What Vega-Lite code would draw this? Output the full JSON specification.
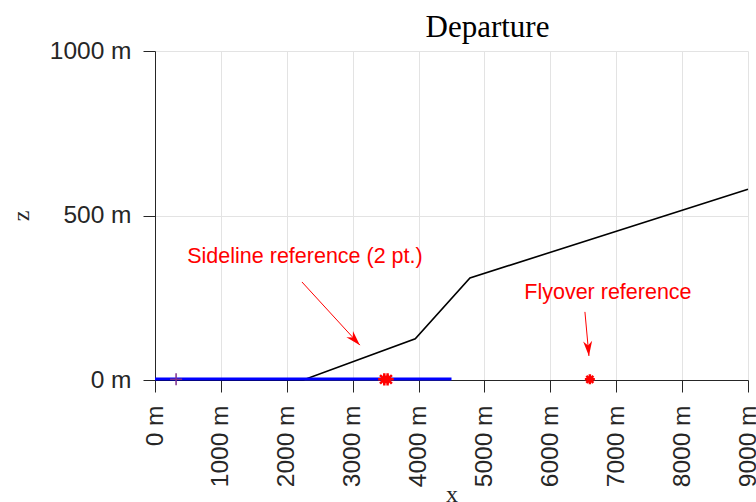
{
  "$schema": "https://vega.github.io/schema/vega-lite/v6.json",
  "autosize": "none",
  "width": 593,
  "height": 329,
  "padding": {"left": 155, "top": 51, "right": 8, "bottom": 122},
  "background": "white",
  "config": {"view": {"stroke": null}},
  "title": {"text": "Departure", "font": "Liberation Serif", "fontSize": 31, "fontWeight": "normal", "color": "#000000", "dx": 36, "offset": 8, "dy": 14},
  "datasets": {
    "profile": [
      {"x": 0, "z": 0}, {"x": 2250, "z": 0}, {"x": 3950, "z": 125}, {"x": 4780, "z": 310}, {"x": 9000, "z": 580}
    ],
    "runway": [{"x": 0, "z": 3}, {"x": 4500, "z": 3}],
    "stars": [{"x": 3480, "z": 2, "s": 150}, {"x": 3530, "z": 2, "s": 150}, {"x": 6600, "z": 2, "s": 100}],
    "start": [{"x": 320, "z": 2}],
    "arrows": [
      {"x": 2230, "z": 298, "x2": 3110, "z2": 106, "angle": 137},
      {"x": 6525, "z": 207, "x2": 6586, "z2": 73, "angle": 175}
    ],
    "labels": [
      {"x": 2276, "z": 374, "t": "Sideline reference (2 pt.)"},
      {"x": 6874, "z": 264, "t": "Flyover reference"}
    ]
  },
  "encoding": {
    "x": {"field": "x", "type": "quantitative", "scale": {"domain": [0, 9000], "nice": false},
      "axis": {"title": "x", "titleFont": "Liberation Serif", "titleFontSize": 24, "titleFontWeight": "normal", "titleColor": "#262626", "titlePadding": -4,
        "values": [0,1000,2000,3000,4000,5000,6000,7000,8000,9000], "format": "d", "labelExpr": "datum.label + ' m'",
        "labelAngle": -90, "labelAlign": "right", "labelBaseline": "middle", "labelFont": "Liberation Sans", "labelFontSize": 24.5, "labelColor": "#262626", "labelPadding": 13,
        "tickSize": 12, "tickColor": "#262626", "domainColor": "#262626", "grid": true, "gridColor": "#e3e3e3", "labelOverlap": false, "labelFlush": false}},
    "y": {"field": "z", "type": "quantitative", "scale": {"domain": [0, 1000], "nice": false},
      "axis": {"title": "z", "titleFont": "Liberation Serif", "titleFontSize": 24, "titleFontWeight": "normal", "titleColor": "#262626", "titlePadding": 16,
        "values": [0, 500, 1000], "format": "d", "labelExpr": "datum.label + ' m'",
        "labelFont": "Liberation Sans", "labelFontSize": 24.5, "labelColor": "#262626", "labelPadding": 12,
        "tickSize": 12, "tickColor": "#262626", "domainColor": "#262626", "grid": true, "gridColor": "#e3e3e3", "labelFlush": false}}
  },
  "layer": [
    {"data": {"name": "profile"}, "mark": {"type": "line", "color": "#000000", "strokeWidth": 1.6}},
    {"data": {"name": "runway"}, "mark": {"type": "line", "color": "#0000ff", "strokeWidth": 3}},
    {"data": {"name": "start"}, "mark": {"type": "point", "shape": "M0,-1L0,1M-1,0L1,0", "size": 144, "stroke": "#7e2f8e", "strokeWidth": 1.5, "opacity": 1}},
    {"data": {"name": "stars"}, "mark": {"type": "point", "shape": "M-1,0L1,0M0,-1L0,1M-0.7,-0.7L0.7,0.7M-0.7,0.7L0.7,-0.7", "stroke": "#ff0000", "strokeWidth": 2.5, "opacity": 1},
      "encoding": {"size": {"field": "s", "type": "quantitative", "scale": null}}},
    {"data": {"name": "arrows"}, "mark": {"type": "rule", "color": "#ff0000", "strokeWidth": 1},
      "encoding": {"x2": {"field": "x2"}, "y2": {"field": "z2"}}},
    {"data": {"name": "arrows"}, "mark": {"type": "point", "shape": "M0,0L-0.6,2L0,1.4L0.6,2Z", "size": 225, "fill": "#ff0000", "filled": true, "opacity": 1, "strokeWidth": 0},
      "encoding": {"x": {"field": "x2", "type": "quantitative"}, "y": {"field": "z2", "type": "quantitative"}, "angle": {"field": "angle", "type": "quantitative", "scale": null}}},
    {"data": {"name": "labels"}, "mark": {"type": "text", "color": "#ff0000", "font": "Liberation Sans", "fontSize": 21.5, "align": "center", "baseline": "middle"},
      "encoding": {"text": {"field": "t"}}}
  ]
}
